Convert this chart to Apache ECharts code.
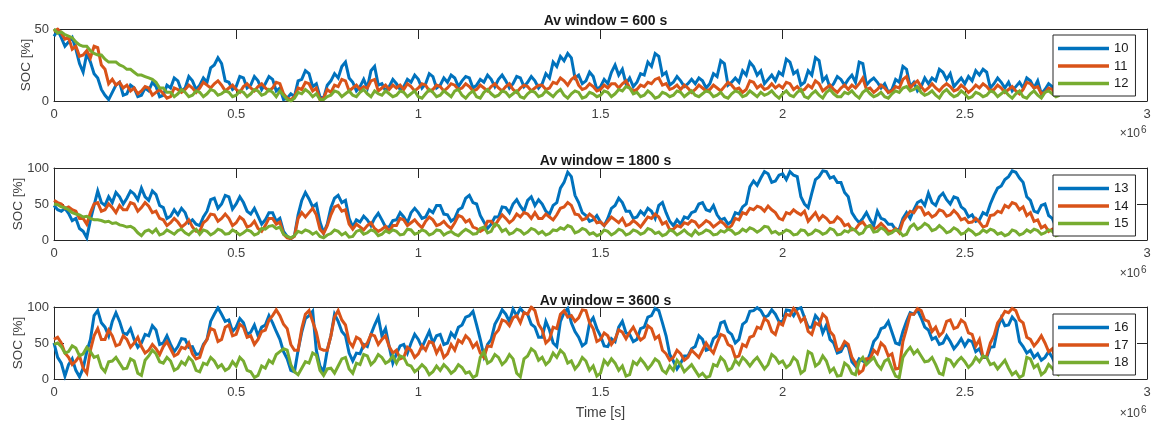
<!DOCTYPE html>
<html>
<head>
<meta charset="utf-8">
<title>SOC vs time</title>
<script src="https://cdn.jsdelivr.net/npm/echarts@6/dist/echarts.min.js"></script>
<style>
  html, body { margin: 0; padding: 0; background: #fff; }
  #chart { width: 1154px; height: 423px; }
</style>
</head>
<body>
<div id="chart"></div>
<script>
// Sample spacing of the SOC traces [s]
const timeStepS = 10000;

// Panel titles and legend labels
const panelTitles = ['Av window = 600 s', 'Av window = 1800 s', 'Av window = 3600 s'];
const panelNames = [['10', '11', '12'], ['13', '14', '15'], ['16', '17', '18']];
const panelYMax = [50, 100, 100];
const xTickLabels = ['0', '0.5', '1', '1.5', '2', '2.5', '3'];

// SOC [%] per case, one value every timeStepS seconds
const soc10 = [45,49,44,38,41,44,36,26,20,33,27,19,16,8,4,1,6,11,13,4,
  5,11,9,3,4,9,7,13,10,3,4,11,9,16,14,7,9,17,14,8,
  11,16,13,23,25,30,26,14,13,8,10,17,16,9,11,17,14,8,12,17,
  15,7,9,1,2,5,3,14,15,21,19,10,12,3,2,11,14,19,16,24,
  27,16,13,7,10,15,9,21,24,11,12,7,10,15,
  12,8,10,15,13,18,15,9,12,19,17,9,11,16,13,18,16,10,14,17,
  16,9,11,15,13,18,15,10,15,18,14,9,12,17,16,10,13,17,14,9,
  12,19,16,27,24,31,28,33,30,16,18,12,14,20,17,8,10,15,12,20,
  25,18,22,12,16,10,13,19,18,27,24,33,31,18,20,11,13,17,14,10,
  12,15,12,16,14,9,12,19,17,28,26,11,13,16,13,21,18,27,24,18,
  21,12,15,18,14,20,
  18,29,27,19,21,11,13,21,18,30,28,14,17,9,12,17,15,11,15,18,
  13,27,26,11,14,16,13,9,12,6,8,15,13,24,22,10,13,7,10,16,
  12,16,14,22,20,15,19,10,13,16,12,17,14,21,18,22,20,9,12,16,
  13,9,13,7,10,13,9,16,14,9,14,5,8,12,10,4,5];
const soc11 = [48,50,47,43,44,36,38,31,32,35,30,38,37,25,22,12,15,11,13,9,
  11,7,9,5,7,10,9,4,6,8,5,2,3,9,8,6,8,11,9,6,
  9,13,11,9,12,14,11,7,9,11,8,6,10,12,9,7,10,12,9,7,
  9,13,12,5,2,1,3,9,8,13,12,7,9,1,2,8,6,11,10,15,
  14,7,9,11,8,10,9,14,15,7,9,11,8,11,
  9,11,8,12,10,7,9,12,11,7,8,11,10,7,9,12,11,8,9,12,
  10,7,8,11,9,7,10,12,9,7,10,12,8,6,9,11,10,7,9,11,
  11,8,9,13,12,16,14,11,15,17,11,8,9,12,10,7,8,11,9,12,
  12,9,12,14,9,7,8,11,10,13,12,15,16,11,12,8,9,11,8,11,
  9,6,8,11,9,7,8,11,9,7,10,13,11,8,9,6,8,14,13,9,
  11,8,9,12,9,11,
  9,13,12,8,10,7,8,11,9,14,12,7,9,11,8,6,9,11,8,11,
  9,12,16,8,9,6,8,11,9,6,7,10,9,15,17,9,12,14,10,7,
  9,12,9,7,10,12,10,7,8,11,9,6,8,11,9,12,10,7,8,11,
  9,6,8,10,7,5,8,13,12,9,10,5,6,9,8,4,5];
const soc12 = [50,47,48,46,45,44,41,39,38,38,35,33,32,32,29,27,27,27,25,24,
  22,22,20,18,18,17,16,15,13,9,9,6,6,3,5,8,6,3,4,7,
  6,3,5,8,7,4,5,7,6,3,4,7,6,3,5,8,7,4,5,8,
  6,3,7,4,1,0,2,6,5,8,6,3,5,1,1,3,4,7,6,3,
  5,7,4,3,6,8,5,3,7,5,4,7,5,3,
  4,7,6,3,5,7,3,2,5,8,6,3,4,7,5,3,7,8,4,2,
  5,7,3,2,6,8,5,3,4,7,6,3,5,7,3,2,5,7,6,3,
  4,7,5,3,6,8,4,2,5,7,6,2,3,6,5,3,4,7,6,3,
  5,8,7,10,9,5,6,3,4,7,5,2,3,6,5,3,4,7,6,3,
  5,7,4,3,5,7,6,3,4,6,3,2,5,7,6,3,4,7,5,3,
  6,4,5,7,4,2,
  5,7,4,3,6,8,3,2,5,7,4,2,6,8,5,3,3,6,5,7,
  4,2,6,8,5,3,4,6,3,2,5,7,6,9,10,7,8,10,6,4,
  5,7,4,2,6,8,5,3,4,7,5,2,3,6,5,3,4,7,6,3,
  5,7,4,2,5,7,3,2,5,7,4,2,6,7,5,3,4];

const soc13 = [48,42,40,44,37,27,30,16,12,3,28,48,68,52,48,60,52,66,60,50,
  58,68,64,56,72,60,55,68,63,48,45,30,33,42,35,44,38,24,28,22,
  20,32,40,56,58,44,50,62,60,43,50,60,52,40,36,44,33,22,28,38,
  38,26,30,12,5,2,6,35,55,66,57,46,50,25,10,22,45,58,62,52,
  55,30,18,28,25,33,28,20,30,37,28,18,18,27,
  28,38,32,24,38,44,38,30,32,42,38,48,48,36,35,26,30,42,45,58,
  62,52,50,34,25,16,22,32,32,46,45,38,50,56,47,40,55,60,48,56,
  50,40,36,48,52,72,80,94,88,62,52,38,34,26,28,34,25,20,30,44,
  48,58,52,40,40,30,32,40,35,44,40,30,48,52,38,26,20,28,22,32,
  30,38,40,50,52,42,40,48,35,28,30,22,26,38,36,46,50,74,82,76,
  86,95,92,80,82,90,
  92,84,95,90,88,60,50,45,65,84,88,96,95,86,88,80,80,66,60,38,
  30,24,30,38,28,20,40,30,28,22,22,14,15,30,38,30,42,52,55,48,
  65,52,48,60,65,56,50,60,58,46,42,32,35,26,28,38,35,50,62,72,
  75,84,88,96,94,86,80,60,55,40,38,48,50,34,30,18,15];
const soc14 = [55,52,50,44,46,42,40,30,30,22,38,50,52,40,42,50,45,38,48,42,
  42,52,50,40,45,52,47,38,40,30,28,20,24,30,25,18,22,28,18,12,
  12,24,28,36,35,26,30,36,30,20,24,32,28,18,20,26,16,12,20,30,
  30,22,25,8,3,2,5,30,38,32,38,44,35,15,9,20,35,46,48,40,
  42,22,15,22,18,14,20,24,16,12,15,19,12,20,
  20,30,28,20,24,28,22,17,26,32,28,20,22,26,20,16,24,34,32,25,
  28,18,16,12,15,26,26,20,28,35,30,24,28,36,32,38,36,30,38,30,
  30,36,32,28,35,44,46,52,48,36,35,28,30,36,32,24,25,20,26,32,
  28,24,30,20,22,27,23,18,25,32,30,36,32,22,25,14,15,20,18,24,
  22,27,25,18,22,27,24,18,22,26,22,16,20,30,28,38,36,44,42,47,
  45,40,47,42,38,30,
  28,38,36,42,38,35,40,26,32,38,28,34,30,24,25,32,28,20,22,14,
  15,22,25,18,20,15,18,23,18,12,12,16,10,26,33,40,38,46,45,35,
  38,32,35,42,40,33,35,41,36,28,30,24,25,30,25,18,20,34,35,40,
  38,48,45,52,50,42,46,34,38,26,28,17,20,12,15,8,10];
const soc15 = [50,49,46,45,42,38,36,35,32,33,30,28,28,27,25,26,23,24,21,20,
  18,19,16,10,6,12,14,10,15,7,9,14,11,8,13,15,10,7,12,15,
  8,14,12,7,10,15,13,8,9,14,11,7,10,14,12,7,9,16,15,19,
  20,16,18,8,5,3,6,12,10,14,12,8,11,5,3,7,9,14,12,7,
  10,4,5,12,14,8,10,14,12,6,8,13,10,14,
  12,7,8,15,14,8,10,14,12,7,9,14,13,7,10,12,8,6,11,15,
  12,8,9,16,18,10,12,22,20,12,15,8,10,15,13,8,11,16,14,9,
  12,7,9,14,13,17,15,20,18,10,12,16,14,8,10,6,8,14,12,7,
  10,15,13,7,9,14,12,8,10,16,14,9,11,6,8,14,12,7,10,14,
  9,6,13,8,10,14,12,7,8,13,11,15,13,8,10,15,12,17,15,11,
  14,19,18,10,12,8,
  10,14,12,7,8,14,13,7,9,14,12,8,10,16,14,7,8,13,11,16,
  13,8,10,18,20,11,12,17,14,8,10,14,12,6,8,18,22,15,18,23,
  20,13,15,20,16,10,12,17,14,8,10,15,12,7,9,14,11,15,13,8,
  10,6,8,14,12,7,9,14,11,15,13,8,10,14,12,6,8];

const soc16 = [50,30,22,4,20,28,12,3,15,38,55,88,95,78,72,60,80,92,80,64,
  62,70,55,44,50,62,60,74,68,48,50,60,48,38,45,56,55,44,45,34,
  35,48,55,80,90,99,90,80,82,66,72,84,78,62,65,75,60,72,75,88,
  78,66,55,38,28,12,10,40,65,84,88,94,40,18,10,40,60,90,80,66,
  60,36,25,36,35,48,45,62,75,86,60,70,45,22,
  35,46,48,36,50,62,55,44,55,66,50,60,62,48,50,64,58,72,75,86,
  88,94,75,55,32,48,55,76,85,96,90,80,97,88,98,92,90,76,72,58,
  58,80,68,50,45,80,92,98,78,66,58,46,50,78,85,70,60,46,45,56,
  52,72,80,64,62,52,55,70,72,86,88,98,95,78,60,34,25,14,22,32,
  32,42,45,60,55,40,42,56,60,78,80,66,62,50,55,76,80,94,95,99,
  95,86,88,96,90,80,
  80,96,95,88,97,99,85,72,72,88,82,64,75,55,50,36,38,48,45,24,
  18,28,25,22,35,52,58,70,72,80,65,50,48,66,80,92,90,96,85,72,
  68,55,58,48,50,60,52,42,48,56,46,54,52,38,42,30,30,44,45,70,
  85,74,75,86,80,52,45,36,40,30,35,26,30,38,30,18,15];
const soc17 = [55,58,50,36,30,20,25,32,15,8,40,60,70,55,55,68,60,46,48,60,
  55,44,50,58,45,36,40,48,42,34,45,52,42,32,35,44,42,50,35,28,
  30,46,55,70,68,52,55,72,75,60,62,76,72,58,60,48,55,66,68,82,
  88,96,88,76,70,48,40,40,70,90,95,80,65,42,40,40,60,86,95,82,
  75,52,45,58,55,44,50,62,60,48,55,60,45,36,
  40,28,30,44,40,30,35,46,40,52,50,36,45,30,35,48,40,54,50,60,
  55,44,50,36,30,46,45,62,68,82,80,74,85,88,78,92,90,100,95,76,
  68,50,55,72,70,90,95,86,88,80,85,96,95,78,70,52,55,64,60,48,
  55,68,65,56,65,72,62,54,58,74,70,56,60,40,35,26,30,40,35,26,
  30,40,35,30,40,50,42,36,50,62,60,48,45,30,32,48,45,58,60,72,
  70,84,80,66,62,78,
  75,90,88,98,92,80,85,66,62,78,75,90,85,66,60,40,42,52,48,30,
  22,8,12,28,28,40,35,50,45,32,35,14,15,52,70,90,90,98,95,82,
  80,66,72,60,65,80,82,70,72,82,78,64,62,46,55,30,32,50,60,78,
  85,94,92,98,95,82,78,58,55,46,52,60,50,38,42,26,20];
const soc18 = [48,50,45,36,38,46,43,32,35,44,38,30,32,16,10,24,25,30,22,14,
  15,28,25,8,5,26,32,40,35,24,22,30,25,12,15,24,20,30,25,12,
  10,22,20,30,25,16,20,12,15,24,18,30,25,12,10,2,5,18,15,26,
  22,34,38,42,40,20,10,6,15,24,22,36,33,12,5,14,15,8,18,28,
  30,14,8,22,20,34,32,20,25,34,30,22,25,32,
  22,32,30,20,18,10,14,20,15,6,10,18,12,20,15,8,12,20,16,8,
  10,2,5,30,38,22,25,34,30,20,25,34,28,8,3,28,32,42,38,26,
  30,20,25,36,30,40,35,22,25,14,20,30,25,12,18,4,8,26,20,28,
  22,12,18,4,6,24,20,28,22,14,20,28,24,12,8,18,12,26,20,10,
  15,20,12,4,8,2,4,20,18,30,25,12,15,26,20,30,25,18,25,30,
  22,14,20,34,30,22,
  25,16,20,30,25,8,12,38,35,18,22,32,25,10,15,4,5,22,18,8,
  6,24,30,20,25,30,20,14,25,28,15,4,2,30,38,44,35,40,32,24,
  25,30,20,8,6,28,26,18,25,30,24,16,21,30,24,32,30,20,22,14,
  20,26,15,6,10,2,5,30,28,16,20,6,10,20,15,8,5];

const panelSeries = [[soc10, soc11, soc12], [soc13, soc14, soc15], [soc16, soc17, soc18]];
const lineColors = ['#0072BD', '#D95319', '#77AC30'];

const FONT = '"Liberation Sans", Arial, Helvetica, sans-serif';
const AX = '#262626';
const TXT = '#404040';

// plot-area layout of the three stacked axes
const plotLeft = 54, plotWidth = 1093;
const plotTops = [29, 168, 307];
const plotHeight = 72;
const legendTops = [35, 175, 314];
const titleTops = [9, 149, 289];
const expBase = [139, 279, 419];
const yNameGaps = [21, 29, 29];

function toXY(values) {
  return values.map((v, i) => [i * timeStepS, v]);
}

const grid = [], xAxis = [], yAxis = [], series = [], title = [], legend = [], graphic = [];

plotTops.forEach((top, p) => {
  grid.push({ left: plotLeft, top: top, width: plotWidth, height: plotHeight, outerBoundsMode: 'none' });

  const xCommon = {
    type: 'value', gridIndex: p, min: 0, max: 3e6, interval: 5e5,
    splitLine: { show: false },
    axisLine: { show: true, onZero: false, lineStyle: { color: AX, width: 1 } },
    axisTick: { show: true, inside: true, length: 10, lineStyle: { color: AX } }
  };
  xAxis.push(Object.assign({}, xCommon, {
    position: 'bottom',
    axisLabel: {
      show: true, fontSize: 13, color: TXT, fontFamily: FONT, margin: 7,
      formatter: v => xTickLabels[Math.round(v / 5e5)]
    },
    name: p === 2 ? 'Time [s]' : '',
    nameLocation: 'middle', nameGap: 27, nameMoveOverlap: false,
    nameTextStyle: { fontSize: 14, color: TXT, fontFamily: FONT }
  }));
  xAxis.push(Object.assign({}, xCommon, { position: 'top', axisLabel: { show: false } }));

  const yCommon = {
    type: 'value', gridIndex: p, min: 0, max: panelYMax[p], interval: 50,
    splitLine: { show: false },
    axisLine: { show: true, onZero: false, lineStyle: { color: AX, width: 1 } },
    axisTick: { show: true, inside: true, length: 10, lineStyle: { color: AX } }
  };
  yAxis.push(Object.assign({}, yCommon, {
    position: 'left',
    axisLabel: { show: true, fontSize: 13, color: TXT, fontFamily: FONT, margin: 5 },
    name: 'SOC [%]', nameLocation: 'middle', nameGap: yNameGaps[p], nameMoveOverlap: false,
    nameTextStyle: { fontSize: 13.5, color: TXT, fontFamily: FONT }
  }));
  yAxis.push(Object.assign({}, yCommon, { position: 'right', axisLabel: { show: false } }));

  panelSeries[p].forEach((vals, k) => {
    series.push({
      type: 'line', name: panelNames[p][k],
      xAxisIndex: 2 * p, yAxisIndex: 2 * p,
      data: toXY(vals),
      smooth: false,
      showSymbol: false, symbol: 'none',
      lineStyle: { width: 3, color: lineColors[k], join: 'miter', cap: 'butt' },
      itemStyle: { color: lineColors[k] },
      clip: true, animation: false
    });
  });

  title.push({
    text: panelTitles[p], left: plotLeft + plotWidth / 2, top: titleTops[p], textAlign: 'center',
    textStyle: { fontSize: 14, fontWeight: 'bold', color: '#1a1a1a', fontFamily: FONT }
  });

  legend.push({
    data: panelNames[p], orient: 'vertical', left: 1053, top: legendTops[p],
    icon: 'rect', itemWidth: 51, itemHeight: 3.5, itemGap: 4.5,
    padding: [7, 7, 6, 5],
    backgroundColor: '#fff', borderColor: AX, borderWidth: 1, borderRadius: 0,
    textStyle: { fontSize: 13, color: '#1a1a1a', fontFamily: FONT },
    selectedMode: false
  });

  // ×10^6 exponent marker under the right end of each x axis
  graphic.push({
    type: 'text', right: 14, top: expBase[p] - 11,
    style: { text: '×10', fontSize: 12, fill: TXT, fontFamily: FONT }
  });
  graphic.push({
    type: 'text', left: 1141, top: expBase[p] - 14,
    style: { text: '6', fontSize: 10, fill: TXT, fontFamily: FONT }
  });
});

const chart = echarts.init(document.getElementById('chart'), null, { renderer: 'canvas' });
chart.setOption({
  animation: false,
  backgroundColor: '#fff',
  textStyle: { fontFamily: FONT },
  title, legend, grid, xAxis, yAxis, series, graphic
});
</script>
</body>
</html>
